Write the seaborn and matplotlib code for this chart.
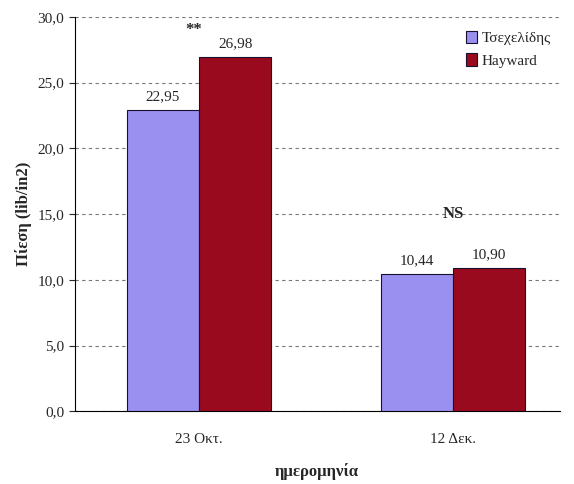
import pandas as pd
import matplotlib.pyplot as plt
import seaborn as sns
from matplotlib.ticker import FuncFormatter

# data
dates = ["23 Οκτ.", "12 Δεκ."]
series = ["Τσεχελίδης", "Hayward"]
tsechelidis = [22.95, 10.44]
hayward = [26.98, 10.90]
signif = ["**", "NS"]

colors = {"Τσεχελίδης": "#9a90f0", "Hayward": "#9a0a1e"}

df = pd.DataFrame({
    "date": dates * 2,
    "series": [series[0]] * 2 + [series[1]] * 2,
    "value": tsechelidis + hayward,
})

sns.set_style("white")
plt.rcParams["font.family"] = ["Liberation Serif", "DejaVu Serif"]

fig, ax = plt.subplots(figsize=(5.74, 4.84), dpi=100)
fig.subplots_adjust(left=0.13, right=0.975, top=0.965, bottom=0.15)

sns.barplot(data=df, x="date", y="value", hue="series", palette=colors,
            saturation=1, width=0.57, edgecolor="#1a1030", linewidth=0.8,
            ax=ax, zorder=3)

# value labels with comma decimals
for cont in ax.containers:
    labels = [f"{b.get_height():.2f}".replace(".", ",") for b in cont]
    ax.bar_label(cont, labels=labels, padding=5, fontsize=11)

# significance marks
sig_y = [29.0, 15.0]
for i, (s, yv) in enumerate(zip(signif, sig_y)):
    ax.text(i - 0.02 if s == "**" else i, yv, s, ha="center", va="center",
            fontsize=12, fontweight="bold", zorder=4)

ax.set_ylim(0, 30)
ax.set_xlim(-0.49, 1.42)
ax.set_yticks(range(0, 31, 5))
ax.yaxis.set_major_formatter(FuncFormatter(lambda v, p: f"{v:.1f}".replace(".", ",")))
ax.yaxis.grid(True, linestyle=(0, (3, 3)), color="#777777", linewidth=0.8, zorder=0)
ax.tick_params(axis="y", left=True, length=4, width=0.8, labelsize=11)
ax.tick_params(axis="x", labelsize=11, pad=12)

for sp in ["top", "right"]:
    ax.spines[sp].set_visible(False)
ax.spines["left"].set_color("black")
ax.spines["bottom"].set_color("black")

ax.set_ylabel("Πίεση (lib/in2)", fontsize=12, fontweight="bold")
ax.set_xlabel("ημερομηνία", fontsize=12, fontweight="bold", labelpad=12)

leg = ax.legend(loc="upper right", bbox_to_anchor=(1.01, 1.0), frameon=False,
                fontsize=11, handlelength=0.7, handleheight=0.9, handletextpad=0.3,
                title=None)

fig.savefig("out.png", dpi=100)
